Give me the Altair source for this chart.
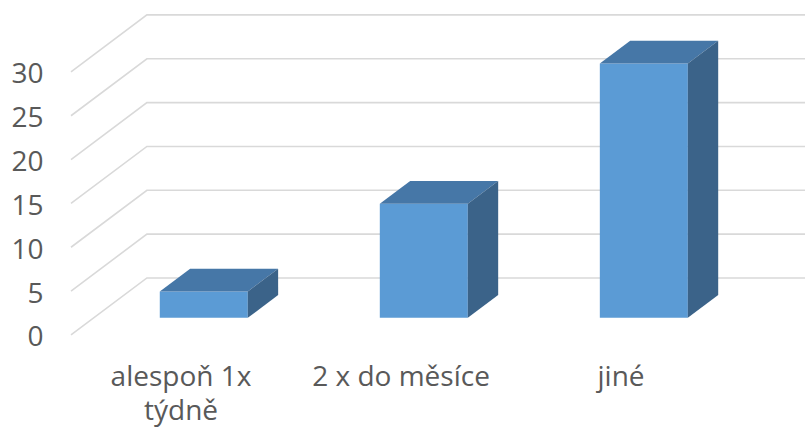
import altair as alt
import pandas as pd

categories = ["alespoň 1x\ntýdně", "2 x do měsíce", "jiné"]
values = [3, 13, 29]
y_ticks = [0, 5, 10, 15, 20, 25, 30]

# oblique projection of the depth axis (expressed in data units)
DEPTH_X = 0.345   # shift along x per full depth, in category slots
DEPTH_Y = 6.5     # shift along y per full depth, in value units
Z_FRONT, Z_BACK = 0.3, 0.7   # depth range occupied by the columns
HALF_W = 0.2                 # half column width, in category slots
X_MIN = -0.5
X_MAX = len(categories) - 0.5 + DEPTH_X
X_DOMAIN = [-0.5, 2.836]
Y_DOMAIN = [-10.5, 38.2]
LABEL_Y = -3.3

FONT = "Open Sans"
FONT_SIZE = 28
TEXT_COLOR = "#595959"
GRID_COLOR = "#d9d9d9"
FRONT_COLOR = "#5b9bd5"
TOP_COLOR = "#4677a7"
SIDE_COLOR = "#3b6389"

# gridlines: side wall diagonal, then along the back wall
grid_rows = []
for t in y_ticks:
    pts = [(X_MIN, t), (X_MIN + DEPTH_X, t + DEPTH_Y), (X_MAX, t + DEPTH_Y)]
    for k, (x, y) in enumerate(pts):
        grid_rows.append({"tick": t, "order": k, "x": x, "y": y})
grid = pd.DataFrame(grid_rows)

front_rows, top_rows, side_rows = [], [], []
for i, (c, v) in enumerate(zip(categories, values)):
    front_rows.append({
        "cat": c,
        "x": i - HALF_W + Z_FRONT * DEPTH_X,
        "x2": i + HALF_W + Z_FRONT * DEPTH_X,
        "y": Z_FRONT * DEPTH_Y,
        "y2": v + Z_FRONT * DEPTH_Y,
    })
    for z in (Z_FRONT, Z_BACK):
        top_rows.append({
            "cat": c,
            "y": v + z * DEPTH_Y,
            "x": i - HALF_W + z * DEPTH_X,
            "x2": i + HALF_W + z * DEPTH_X,
        })
        side_rows.append({
            "cat": c,
            "x": i + HALF_W + z * DEPTH_X,
            "y": z * DEPTH_Y,
            "y2": v + z * DEPTH_Y,
        })
front = pd.DataFrame(front_rows)
top = pd.DataFrame(top_rows)
side = pd.DataFrame(side_rows)
labels = pd.DataFrame({"cat": categories, "x": list(range(len(categories))),
                       "y": [LABEL_Y] * len(categories)})

xs = alt.Scale(domain=X_DOMAIN, nice=False, zero=False)
ys = alt.Scale(domain=Y_DOMAIN, nice=False, zero=False)
y_axis = alt.Axis(
    values=y_ticks, domain=False, ticks=False, grid=False, title="",
    labelFont=FONT, labelFontSize=FONT_SIZE, labelColor=TEXT_COLOR,
    labelPadding=28, labelOffset=3,
)

gridlines = alt.Chart(grid).mark_line(color=GRID_COLOR, strokeWidth=1.6).encode(
    x=alt.X("x:Q", scale=xs, axis=None),
    y=alt.Y("y:Q", scale=ys, axis=y_axis),
    detail="tick:N",
    order="order:Q",
)

front_faces = alt.Chart(front).mark_rect(color=FRONT_COLOR).encode(
    x=alt.X("x:Q", scale=xs, axis=None), x2="x2",
    y=alt.Y("y:Q", scale=ys, axis=y_axis), y2="y2",
)

top_faces = alt.Chart(top).mark_area(color=TOP_COLOR, orient="horizontal").encode(
    y=alt.Y("y:Q", scale=ys, axis=y_axis),
    x=alt.X("x:Q", scale=xs, axis=None, stack=False), x2="x2",
    detail="cat:N",
)

side_faces = alt.Chart(side).mark_area(color=SIDE_COLOR, orient="vertical").encode(
    x=alt.X("x:Q", scale=xs, axis=None),
    y=alt.Y("y:Q", scale=ys, axis=y_axis, stack=False), y2="y2",
    detail="cat:N",
)

cat_labels = alt.Chart(labels).mark_text(
    font=FONT, fontSize=FONT_SIZE, color=TEXT_COLOR, lineBreak="\n", lineHeight=34,
    align="center", baseline="top",
).encode(
    x=alt.X("x:Q", scale=xs, axis=None),
    y=alt.Y("y:Q", scale=ys, axis=y_axis),
    text="cat:N",
)

chart = alt.layer(gridlines, front_faces, top_faces, side_faces, cat_labels).properties(
    width=734, height=427,
    autosize=alt.AutoSizeParams(type="none"),
    padding={"left": 71, "top": 0, "right": 0, "bottom": 0},
    background="white",
).configure_view(stroke=None)

chart.save("out.html", embed_options={"renderer": "svg", "actions": False})
